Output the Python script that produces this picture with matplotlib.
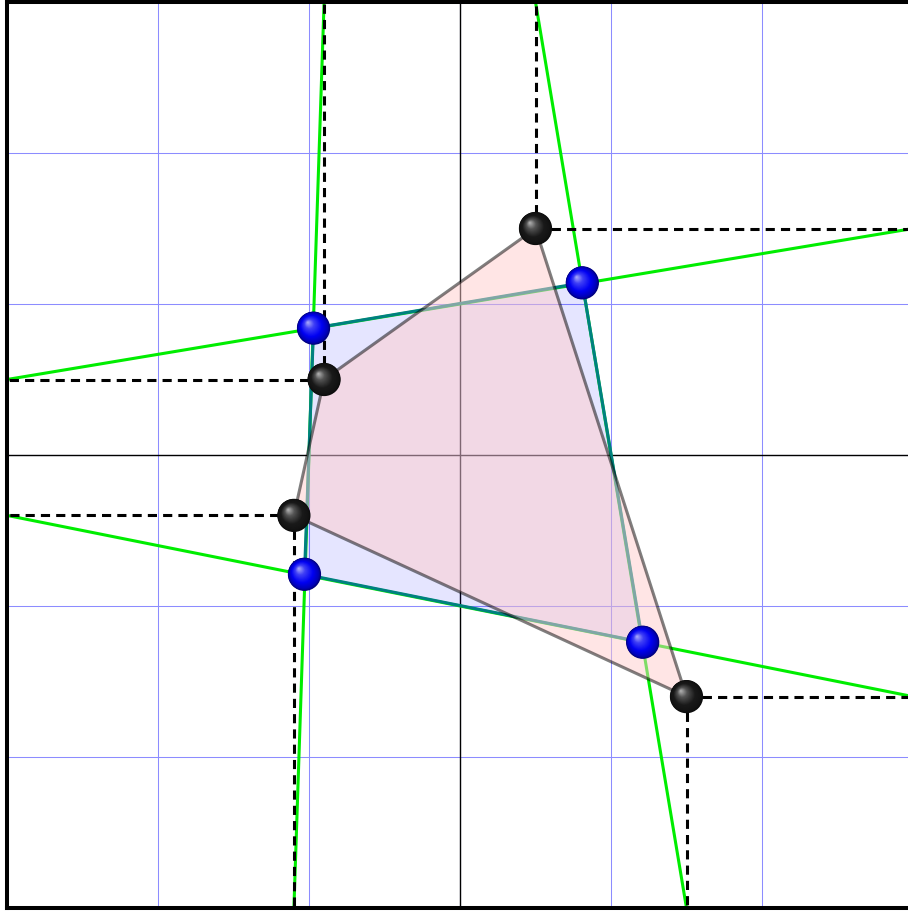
import numpy as np
import matplotlib
matplotlib.use("Agg")
import matplotlib.pyplot as plt
from matplotlib.patches import Polygon, Circle

# corner points (black balls) and the intersection points (blue balls)
black_x = [0.5, -0.9, -1.1, 1.5]
black_y = [1.5, 0.5, -0.4, -1.6]
blue_x = [-0.97, 0.81, 1.21, -1.03]
blue_y = [0.84, 1.14, -1.24, -0.79]

# where the dashed projections of each black point end
dash_hx = [3, -3, -3, 3]
dash_vy = [3, 3, -3, -3]

# green lines, start -> end
green_x0 = [-3, -0.9, 0.5, -3]
green_y0 = [0.5, 3, 3, -0.4]
green_x1 = [3, -1.1, 1.5, 3]
green_y1 = [1.5, -3, -3, -1.6]

grid_vals = [-3, -2, -1, 0, 1, 2, 3]


def ball(ax, x, y, r, base, z=10):
    # fake ball shading: stacked circles moving toward the highlight
    base = np.array(base)
    white = np.ones(3)
    stops = [0.0, 0.3, 0.65, 0.9, 1.0]
    cols = [base * 0.3 + white * 0.7,
            base * 0.75 + white * 0.25,
            base,
            base * 0.75,
            base * 0.5]
    cols = np.array(cols)
    n = 40
    ox, oy = -0.35 * r, 0.35 * r
    for k in range(n):
        s = 1 - k / n
        c = [np.interp(s, stops, cols[:, i]) for i in range(3)]
        cx = x + (1 - s) * ox
        cy = y + (1 - s) * oy
        ax.add_patch(Circle((cx, cy), r * s, facecolor=c, edgecolor='none',
                            zorder=z + k * 0.001))


fig = plt.figure(figsize=(9.08, 9.12), dpi=100)
ax = fig.add_axes([7 / 908, 3 / 912, 906 / 908, 906 / 912])
ax.set_xlim(-3, 3)
ax.set_ylim(-3, 3)

ax.set_xticks(grid_vals)
ax.set_yticks(grid_vals)
ax.tick_params(length=0, labelbottom=False, labelleft=False)
ax.grid(color=(0.55, 0.55, 1.0), linewidth=0.75)
ax.set_axisbelow(True)
ax.axhline(0, color='black', lw=1.0, zorder=1)
ax.axvline(0, color='black', lw=1.0, zorder=1)

for sp in ['left', 'top', 'bottom', 'right']:
    ax.spines[sp].set_linewidth(2.9)
    ax.spines[sp].set_color('black')

# green lines
for i in range(len(green_x0)):
    ax.plot([green_x0[i], green_x1[i]], [green_y0[i], green_y1[i]],
            color=(0, 0.93, 0), lw=2.2, zorder=2, solid_capstyle='butt')

# blue quadrilateral
ax.add_patch(Polygon(np.column_stack([blue_x, blue_y]), closed=True,
                     facecolor=(0, 0, 1, 0.1), edgecolor=(0, 0.5, 0.5),
                     lw=2.2, zorder=3))

# pink quadrilateral
ax.add_patch(Polygon(np.column_stack([black_x, black_y]), closed=True,
                     facecolor=(1, 0.8, 0.8, 0.5), edgecolor=(0, 0, 0, 0.5),
                     lw=2.2, zorder=4))

# dashed projections
for i in range(len(black_x)):
    ax.plot([black_x[i], dash_hx[i]], [black_y[i], black_y[i]],
            color='black', lw=2.2, ls=(0, (3, 2)), zorder=5)
    ax.plot([black_x[i], black_x[i]], [black_y[i], dash_vy[i]],
            color='black', lw=2.2, ls=(0, (3, 2)), zorder=5)

r = 0.11
for x, y in zip(blue_x, blue_y):
    ball(ax, x, y, r, (0.0, 0.0, 0.95))
for x, y in zip(black_x, black_y):
    ball(ax, x, y, r, (0.1, 0.1, 0.1))

fig.savefig("out.png", dpi=100)
